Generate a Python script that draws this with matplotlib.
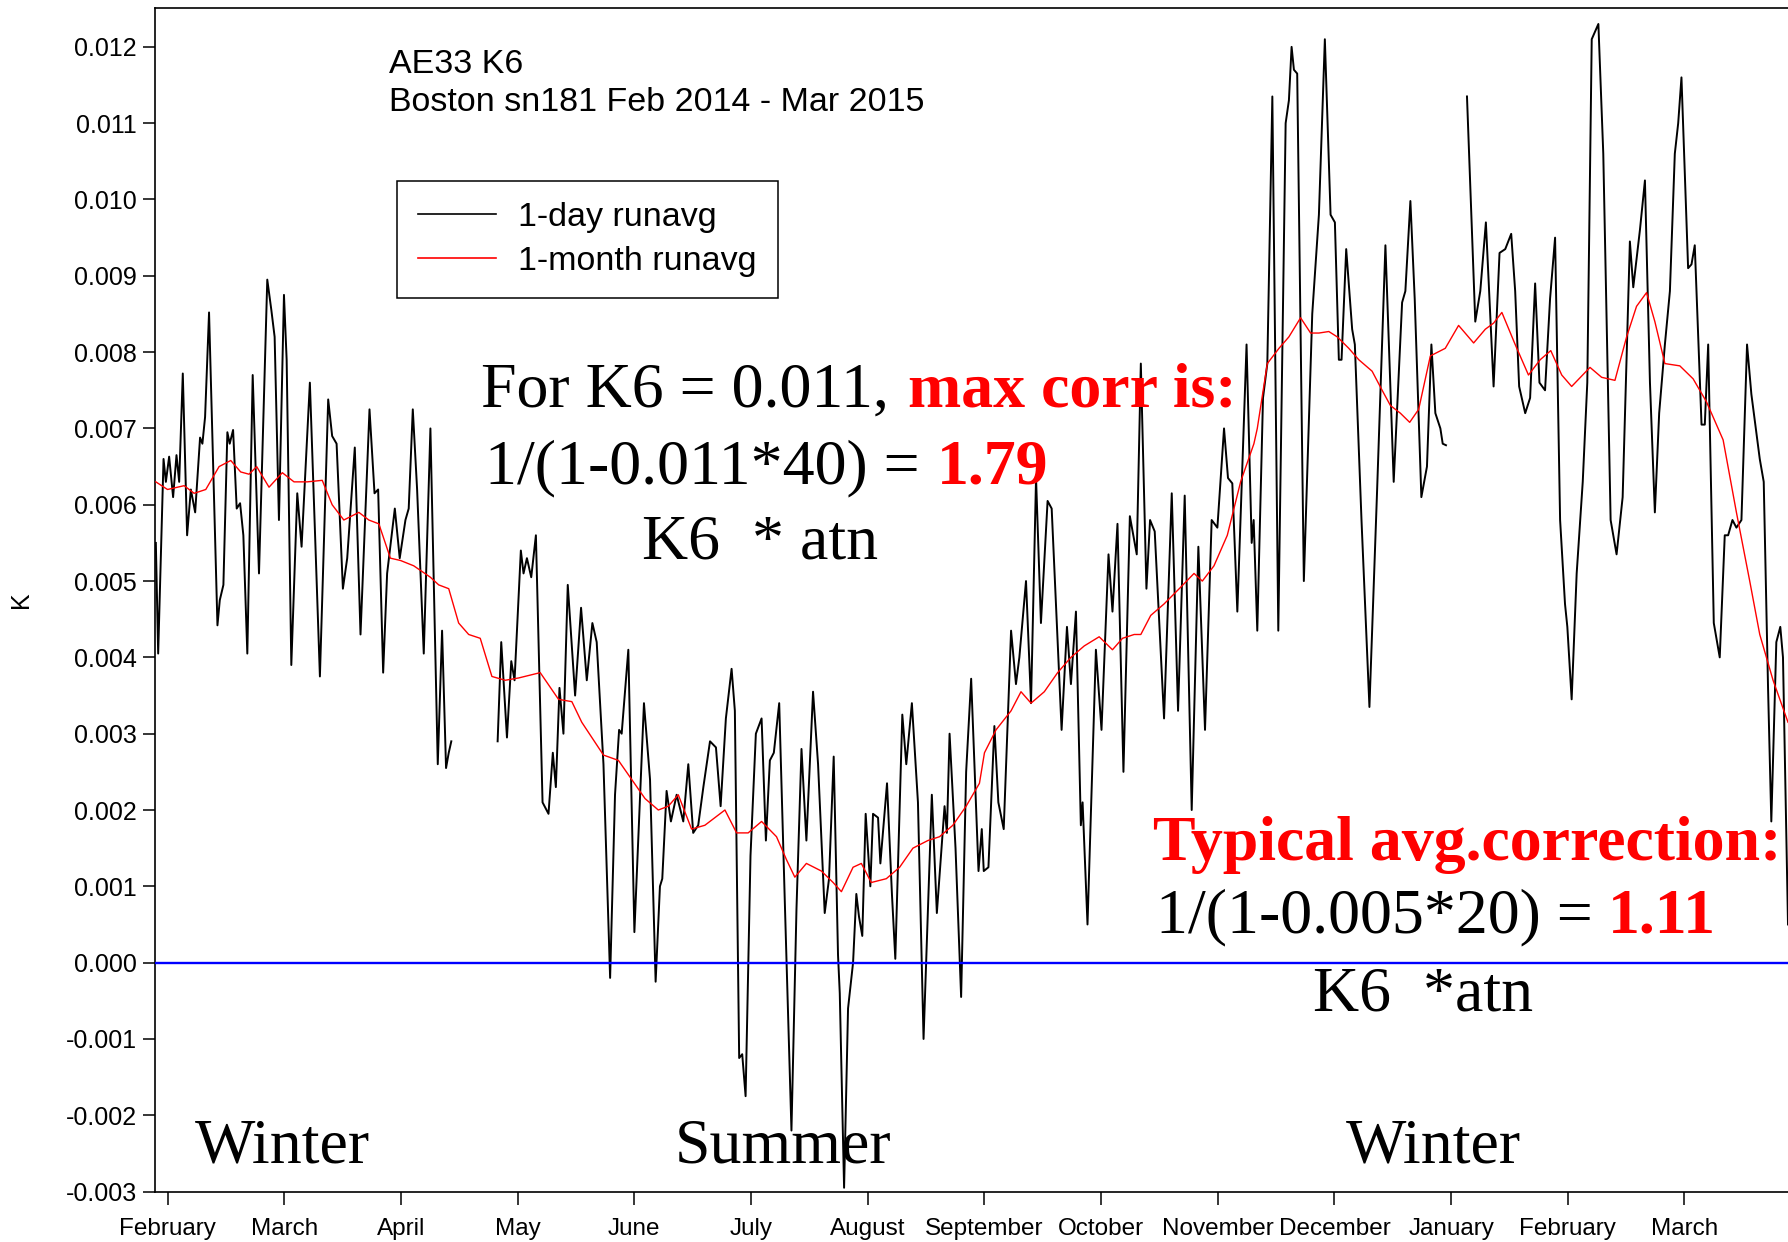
import numpy as np
import matplotlib
matplotlib.use("Agg")
import matplotlib.pyplot as plt

# ---------------- data (x = month index from Feb 2014, y = K in units of 0.001) ----
month_labels = ["February", "March", "April", "May", "June", "July", "August",
                "September", "October", "November", "December", "January",
                "February", "March"]
ytick_values = [-0.003, -0.002, -0.001, 0.000, 0.001, 0.002, 0.003, 0.004,
                0.005, 0.006, 0.007, 0.008, 0.009, 0.010, 0.011, 0.012]
ytick_labels = ["-0.003", "-0.002", "-0.001", "0.000", "0.001", "0.002", "0.003",
                "0.004", "0.005", "0.006", "0.007", "0.008", "0.009", "0.010",
                "0.011", "0.012"]

day_month = [-0.100, -0.080, -0.034, -0.014, 0.014, 0.048, 0.077, 0.100, 0.131, 0.168,
             0.200, 0.237, 0.279, 0.299, 0.322, 0.356, 0.428, 0.448, 0.479, 0.513,
             0.533, 0.562, 0.593, 0.622, 0.650, 0.684, 0.730, 0.784, 0.855, 0.890,
             0.918, 0.955, 0.998, 1.021, 1.061, 1.112, 1.149, 1.220, 1.306, 1.377,
             1.411, 1.449, 1.503, 1.540, 1.605, 1.654, 1.731, 1.774, 1.805, 1.848,
             1.882, 1.948, 1.990, 2.039, 2.067, 2.102, 2.139, 2.196, 2.253, 2.316,
             2.353, 2.387, 2.410, 2.432, 2.630, 2.829, 2.860, 2.909, 2.946, 2.974,
             3.028, 3.051, 3.080, 3.117, 3.157, 3.214, 3.265, 3.302, 3.328, 3.359,
             3.393, 3.430, 3.493, 3.544, 3.593, 3.641, 3.678, 3.736, 3.793, 3.835,
             3.870, 3.892, 3.949, 4.001, 4.083, 4.135, 4.183, 4.220, 4.240, 4.277,
             4.314, 4.363, 4.420, 4.463, 4.505, 4.548, 4.592, 4.649, 4.700, 4.740,
             4.785, 4.834, 4.862, 4.899, 4.925, 4.954, 4.996, 5.042, 5.091, 5.128,
             5.162, 5.196, 5.242, 5.290, 5.347, 5.390, 5.433, 5.475, 5.532, 5.575,
             5.632, 5.669, 5.709, 5.746, 5.761, 5.798, 5.832, 5.875, 5.903, 5.926,
             5.954, 5.983, 6.023, 6.046, 6.089, 6.109, 6.166, 6.208, 6.237, 6.297,
             6.331, 6.379, 6.431, 6.479, 6.550, 6.593, 6.659, 6.679, 6.702, 6.753,
             6.801, 6.844, 6.887, 6.950, 6.978, 6.995, 7.035, 7.086, 7.120, 7.166,
             7.229, 7.271, 7.300, 7.357, 7.400, 7.443, 7.485, 7.542, 7.577, 7.662,
             7.708, 7.742, 7.785, 7.827, 7.842, 7.884, 7.956, 8.004, 8.064, 8.098,
             8.141, 8.192, 8.247, 8.306, 8.341, 8.389, 8.420, 8.460, 8.540, 8.606,
             8.660, 8.717, 8.777, 8.834, 8.891, 8.948, 8.997, 9.054, 9.088, 9.125,
             9.168, 9.247, 9.291, 9.308, 9.339, 9.388, 9.425, 9.468, 9.519, 9.582,
             9.610, 9.633, 9.653, 9.681, 9.738, 9.810, 9.867, 9.918, 9.967, 10.004,
             10.038, 10.061, 10.101, 10.152, 10.175, 10.232, 10.300, 10.366, 10.437, 10.508,
             10.580, 10.608, 10.651, 10.688, 10.745, 10.793, 10.831, 10.865, 10.908, 10.928,
             10.956, 11.050, 11.136, 11.207, 11.250, 11.298, 11.364, 11.415, 11.464, 11.515,
             11.549, 11.583, 11.635, 11.677, 11.720, 11.757, 11.805, 11.848, 11.891, 11.934,
             11.976, 11.996, 12.033, 12.076, 12.128, 12.167, 12.205, 12.262, 12.304, 12.367,
             12.418, 12.470, 12.532, 12.561, 12.618, 12.661, 12.704, 12.746, 12.783, 12.832,
             12.875, 12.917, 12.946, 12.974, 13.031, 13.060, 13.088, 13.146, 13.174, 13.203,
             13.251, 13.302, 13.345, 13.374, 13.411, 13.445, 13.488, 13.536, 13.573, 13.645,
             13.679, 13.716, 13.744, 13.787, 13.821, 13.844, 13.887]
day_k_milli = [5.5, 4.05, 6.6, 6.3, 6.63, 6.1, 6.65, 6.3, 7.72, 5.6,
               6.2, 5.9, 6.88, 6.8, 7.15, 8.52, 4.42, 4.75, 4.95, 6.95,
               6.8, 6.98, 5.95, 6.02, 5.6, 4.05, 7.7, 5.1, 8.95, 8.55,
               8.2, 5.8, 8.75, 7.9, 3.9, 6.15, 5.45, 7.6, 3.75, 7.38,
               6.9, 6.8, 4.9, 5.3, 6.75, 4.3, 7.25, 6.15, 6.2, 3.8,
               5.1, 5.95, 5.3, 5.8, 5.95, 7.25, 6.2, 4.05, 7.0, 2.6,
               4.35, 2.55, 2.75, 2.9, np.nan, 2.9, 4.2, 2.95, 3.95, 3.7,
               5.4, 5.1, 5.3, 5.05, 5.6, 2.1, 1.95, 2.75, 2.3, 3.6,
               3.0, 4.95, 3.5, 4.65, 3.7, 4.45, 4.2, 2.6, -0.2, 2.2,
               3.05, 3.0, 4.1, 0.4, 3.4, 2.4, -0.25, 1.0, 1.1, 2.25,
               1.85, 2.2, 1.85, 2.6, 1.7, 1.8, 2.3, 2.9, 2.82, 2.05,
               3.2, 3.85, 3.3, -1.25, -1.2, -1.75, 1.4, 3.0, 3.2, 1.6,
               2.65, 2.75, 3.4, 0.8, -2.2, 0.7, 2.8, 1.6, 3.55, 2.6,
               0.65, 1.1, 2.7, 0.1, -0.4, -2.95, -0.6, 0.0, 0.9, 0.6,
               0.35, 1.95, 1.0, 1.95, 1.9, 1.3, 2.35, 0.9, 0.05, 3.25,
               2.6, 3.4, 2.1, -1.0, 2.2, 0.65, 2.05, 1.7, 3.0, 1.5,
               -0.45, 2.5, 3.72, 1.2, 1.75, 1.2, 1.25, 3.1, 2.1, 1.75,
               4.35, 3.65, 4.0, 5.0, 3.4, 6.35, 4.45, 6.05, 5.95, 3.05,
               4.4, 3.65, 4.6, 1.8, 2.1, 0.5, 4.1, 3.05, 5.35, 4.6,
               5.75, 2.5, 5.85, 5.35, 7.85, 4.9, 5.8, 5.65, 3.2, 6.15,
               3.3, 6.12, 2.0, 5.45, 3.05, 5.8, 5.7, 7.0, 6.35, 6.28,
               4.6, 8.1, 5.5, 5.8, 4.35, 7.4, 7.85, 11.35, 4.35, 11.0,
               11.3, 12.0, 11.7, 11.65, 5.0, 8.5, 9.8, 12.1, 9.8, 9.7,
               7.9, 7.9, 9.35, 8.3, 8.1, 5.8, 3.35, 6.2, 9.4, 6.3,
               8.65, 8.8, 9.98, 8.7, 6.1, 6.5, 8.1, 7.2, 7.0, 6.8,
               6.78, np.nan, 11.35, 8.4, 8.8, 9.7, 7.55, 9.3, 9.35, 9.55,
               8.8, 7.55, 7.2, 7.4, 8.9, 7.6, 7.5, 8.7, 9.5, 5.8,
               4.7, 4.4, 3.45, 5.1, 6.3, 7.6, 12.1, 12.3, 10.6, 5.8,
               5.35, 6.1, 9.45, 8.85, 9.6, 10.25, 7.6, 5.9, 7.2, 8.1,
               8.8, 10.6, 11.0, 11.6, 9.1, 9.15, 9.4, 7.05, 7.05, 8.1,
               4.45, 4.0, 5.6, 5.6, 5.8, 5.7, 5.8, 8.1, 7.45, 6.6,
               6.3, 3.6, 1.85, 4.2, 4.4, 4.0, 0.5]

mon_month = [-0.100, 0.000, 0.143, 0.228, 0.328, 0.442, 0.542, 0.627, 0.699, 0.764,
             0.870, 0.984, 1.084, 1.198, 1.326, 1.411, 1.511, 1.640, 1.725, 1.811,
             1.910, 1.996, 2.110, 2.253, 2.324, 2.410, 2.495, 2.581, 2.680, 2.780,
             2.894, 3.008, 3.194, 3.351, 3.465, 3.550, 3.636, 3.736, 3.864, 3.978,
             4.092, 4.206, 4.292, 4.377, 4.491, 4.605, 4.777, 4.877, 4.976, 5.091,
             5.219, 5.304, 5.376, 5.475, 5.604, 5.704, 5.775, 5.875, 5.946, 6.031,
             6.160, 6.274, 6.388, 6.516, 6.616, 6.730, 6.844, 6.958, 7.001, 7.100,
             7.229, 7.314, 7.400, 7.514, 7.628, 7.742, 7.856, 7.984, 8.098, 8.184,
             8.284, 8.341, 8.426, 8.540, 8.683, 8.797, 8.868, 8.968, 9.082, 9.196,
             9.253, 9.310, 9.339, 9.425, 9.525, 9.610, 9.710, 9.796, 9.867, 9.952,
             10.024, 10.123, 10.209, 10.323, 10.409, 10.480, 10.565, 10.645, 10.722, 10.822,
             10.950, 11.064, 11.193, 11.293, 11.364, 11.435, 11.549, 11.663, 11.763, 11.854,
             11.948, 12.033, 12.190, 12.290, 12.404, 12.504, 12.589, 12.675, 12.746, 12.832,
             12.960, 13.074, 13.188, 13.331, 13.445, 13.559, 13.645, 13.759, 13.887]
mon_k_milli = [6.3, 6.2, 6.25, 6.15, 6.2, 6.5, 6.58, 6.43, 6.4, 6.5,
               6.23, 6.42, 6.3, 6.3, 6.32, 6.0, 5.8, 5.9, 5.8, 5.75,
               5.3, 5.27, 5.2, 5.05, 4.95, 4.9, 4.45, 4.3, 4.25, 3.75,
               3.7, 3.73, 3.8, 3.45, 3.42, 3.15, 2.95, 2.72, 2.65, 2.4,
               2.15, 2.0, 2.05, 2.2, 1.75, 1.8, 2.0, 1.7, 1.7, 1.85,
               1.65, 1.35, 1.12, 1.3, 1.2, 1.05, 0.93, 1.25, 1.3, 1.05,
               1.1, 1.25, 1.5, 1.6, 1.65, 1.8, 2.05, 2.35, 2.75, 3.05,
               3.3, 3.55, 3.4, 3.55, 3.8, 4.0, 4.15, 4.27, 4.1, 4.25,
               4.3, 4.3, 4.55, 4.7, 4.92, 5.1, 5.0, 5.2, 5.6, 6.3,
               6.55, 6.8, 7.0, 7.85, 8.05, 8.2, 8.45, 8.25, 8.25, 8.27,
               8.2, 8.05, 7.9, 7.75, 7.5, 7.3, 7.2, 7.08, 7.25, 7.95,
               8.05, 8.35, 8.12, 8.3, 8.38, 8.52, 8.1, 7.7, 7.9, 8.02,
               7.7, 7.55, 7.8, 7.67, 7.63, 8.2, 8.6, 8.78, 8.4, 7.85,
               7.82, 7.65, 7.35, 6.85, 5.9, 5.0, 4.3, 3.7, 3.15]

MILLI = 1e-3
legend_labels = ["1-day runavg", "1-month runavg"]

# ---------------- figure ----------------
plt.rcParams["font.family"] = ["Liberation Sans", "DejaVu Sans"]
fig = plt.figure(figsize=(17.88, 12.42), dpi=100)
ax = fig.add_axes([0.0867, 0.0406, 0.9133, 0.9530])

l1, = ax.plot(day_month, np.array(day_k_milli) * MILLI, color="black", lw=1.4,
              zorder=2, solid_joinstyle="round")
l2, = ax.plot(mon_month, np.array(mon_k_milli) * MILLI, color="red", lw=1.0, zorder=3)
ax.axhline(0.0, color="#0000ff", lw=1.7, zorder=4)

ax.set_xlim(-0.107, 13.887)
ax.set_ylim(-0.003, 0.01251)

ax.set_xticks(range(len(month_labels)))
ax.set_xticklabels(month_labels)
ax.set_yticks(ytick_values)
ax.set_yticklabels(ytick_labels)
ax.tick_params(direction="out", length=9, width=1.1, color="black")
ax.tick_params(axis="x", labelsize=17.5, pad=10)
ax.tick_params(axis="y", labelsize=18, pad=4)

for s in ["top", "left", "bottom"]:
    ax.spines[s].set_linewidth(1.2)
    ax.spines[s].set_color("black")
ax.spines["right"].set_visible(False)

ax.set_ylabel("K", fontsize=18)
ax.yaxis.set_label_coords(-0.0747, 0.5)

# title block
ax.text(1.895, 0.01166, "AE33 K6", fontsize=24.5, ha="left", va="baseline")
ax.text(1.895, 0.011157, "Boston sn181 Feb 2014 - Mar 2015", fontsize=24.5,
        ha="left", va="baseline")

leg = ax.legend([l1, l2], legend_labels, loc="upper left",
                bbox_to_anchor=(0.1479, 0.8536), borderaxespad=0, fontsize=24.5,
                handlelength=2.3, handletextpad=0.65, borderpad=0.62,
                labelspacing=0.36, fancybox=False, edgecolor="black",
                framealpha=1)
leg.get_frame().set_linewidth(1.1)
for h in leg.get_lines():
    h.set_linewidth(1.2)

serif = ["Liberation Serif", "DejaVu Serif"]
big = dict(fontsize=46, family=serif, ha="left", va="baseline")
red_big = dict(big, color="red", fontweight="bold")

ax.text(2.685, 0.00729, "For K6 = 0.011,", **big)
ax.text(6.348, 0.00729, "max corr is:", **red_big)
ax.text(2.725, 0.006285, "1/(1-0.011*40) =", **big)
ax.text(6.59, 0.006285, "1.79", **red_big)
ax.text(4.07, 0.0053, "K6  * atn", **big)

ax.text(8.447, 0.00134, "Typical avg.correction:", **red_big)
ax.text(8.467, 0.00039, "1/(1-0.005*20) =", **big)
ax.text(12.34, 0.00039, "1.11", **red_big)
ax.text(9.814, -0.00063, "K6  *atn", **big)

ax.text(0.234, -0.00262, "Winter", **big)
ax.text(4.346, -0.00262, "Summer", **big)
ax.text(10.10, -0.00262, "Winter", **big)

fig.savefig("out.png", dpi=100)
